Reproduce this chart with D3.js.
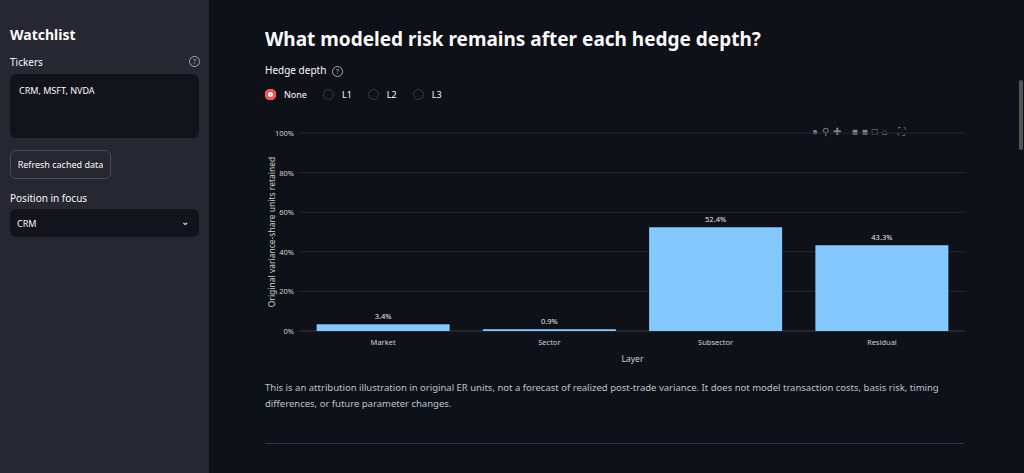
<!DOCTYPE html>
<html><head><meta charset="utf-8">
<script src="https://cdn.jsdelivr.net/npm/d3@7"></script>
<style>
body{margin:0;width:1024px;height:473px;overflow:hidden;background:#0e1117;font-family:"Source Sans Pro","Noto Sans",sans-serif;color:#fafafa;position:relative}
#side{position:absolute;left:0;top:0;width:209px;height:473px;background:#262730}
.abs{position:absolute}
svg text{font-family:"Noto Sans",sans-serif}
</style></head><body>
<div id="side">
 <div class="abs" style="left:10px;top:25px;font-size:14px;font-weight:700">Watchlist</div>
 <div class="abs" style="left:10px;top:55px;font-size:10px">Tickers</div>
 <div class="abs" style="left:189px;top:56px;width:9px;height:9px;border:1px solid #aaa;border-radius:50%;font-size:7px;text-align:center;line-height:9px;color:#aaa">?</div>
 <div class="abs" style="left:10px;top:74px;width:189px;height:64px;background:#13141b;border-radius:6px"></div>
 <div class="abs" style="left:19px;top:84px;font-size:9px">CRM, MSFT, NVDA</div>
 <div class="abs" style="left:10px;top:150px;width:99px;height:27px;border:1px solid #484a55;border-radius:6px;font-size:9px;line-height:27px;text-align:center">Refresh cached data</div>
 <div class="abs" style="left:10px;top:191px;font-size:10px">Position in focus</div>
 <div class="abs" style="left:10px;top:209px;width:189px;height:28px;background:#13141b;border-radius:6px"></div>
 <div class="abs" style="left:17px;top:217px;font-size:9px">CRM</div>
 <div class="abs" style="left:181px;top:214px;font-size:10px">&#8964;</div>
</div>
<div class="abs" style="left:265px;top:26px;font-size:19px;font-weight:700">What modeled risk remains after each hedge depth?</div>
<div class="abs" style="left:265px;top:63px;font-size:10px">Hedge depth <span style="display:inline-block;width:9px;height:9px;border:1px solid #aaa;border-radius:50%;font-size:7px;text-align:center;line-height:9px;color:#aaa;margin-left:3px">?</span></div>
<div class="abs" style="left:265px;top:88px;font-size:9px;display:flex;gap:8px;align-items:center">
 <span style="width:11px;height:11px;border-radius:50%;background:#ff4b4b;display:inline-block;box-shadow:inset 0 0 0 3px #ff4b4b, inset 0 0 0 5px #fff"></span>None
 <span style="width:9px;height:9px;border-radius:50%;border:1px solid #3a3c44;display:inline-block;margin-left:8px"></span>L1
 <span style="width:9px;height:9px;border-radius:50%;border:1px solid #3a3c44;display:inline-block;margin-left:8px"></span>L2
 <span style="width:9px;height:9px;border-radius:50%;border:1px solid #3a3c44;display:inline-block;margin-left:8px"></span>L3
</div>
<div class="abs" style="left:812px;top:124px;font-size:10px;color:#888;letter-spacing:4px">&#9679;&#9906;&#10010; &#9632;&#9632;&#9633;&#8962; &#9974;</div>
<svg id="chart" class="abs" style="left:260px;top:110px" width="720" height="270"></svg>
<div class="abs" style="left:265px;top:380px;width:705px;font-size:9.5px;line-height:16px;color:#bfc3c9">This is an attribution illustration in original ER units, not a forecast of realized post-trade variance. It does not model transaction costs, basis risk, timing differences, or future parameter changes.</div>
<div class="abs" style="left:265px;top:443px;width:699px;height:1px;background:#31333f"></div>
<div class="abs" style="left:1019px;top:80px;width:4px;height:70px;background:#555;border-radius:2px"></div>
<script>
const layers = ['Market','Sector','Subsector','Residual'];
const retained = [3.4, 0.9, 52.4, 43.3];
const yTicks = [0,20,40,60,80,100];

const svg = d3.select('#chart');
const m = {l:40, r:15, t:23, b:49};
const W = 720, H = 270;
const x = d3.scaleBand().domain(layers).range([m.l, W-m.r]).paddingInner(0.2).paddingOuter(0.1);
const y = d3.scaleLinear().domain([0,100]).range([H-m.b, m.t]);

svg.selectAll('line.g').data(yTicks).join('line')
	.attr('x1', m.l).attr('x2', W-m.r)
	.attr('y1', d=>y(d)).attr('y2', d=>y(d))
	.attr('stroke', d=>d===0?'#3a3d45':'#262a33').attr('stroke-width',1);
svg.selectAll('text.yt').data(yTicks).join('text')
	.attr('x', m.l-6).attr('y', d=>y(d)+3)
	.attr('text-anchor','end').attr('font-size',7.5).attr('fill','#d0d0d0')
	.text(d=>d+'%');
svg.selectAll('rect.bar').data(layers).join('rect')
	.attr('x', d=>x(d)).attr('width', x.bandwidth())
	.attr('y', (d,i)=>y(retained[i])).attr('height', (d,i)=>y(0)-y(retained[i]))
	.attr('fill','#83c9ff');
svg.selectAll('text.lbl').data(layers).join('text')
	.attr('x', d=>x(d)+x.bandwidth()/2).attr('y', (d,i)=>y(retained[i])-5)
	.attr('text-anchor','middle').attr('font-size',7.5).attr('fill','#e8e8e8')
	.text((d,i)=>retained[i].toFixed(1)+'%');
svg.selectAll('text.xt').data(layers).join('text')
	.attr('x', d=>x(d)+x.bandwidth()/2).attr('y', y(0)+14)
	.attr('text-anchor','middle').attr('font-size',7.5).attr('fill','#d0d0d0')
	.text(d=>d);
svg.append('text').attr('x', (m.l+W-m.r)/2).attr('y', H-m.b+31)
	.attr('text-anchor','middle').attr('font-size',8.5).attr('fill','#d0d0d0').text('Layer');
svg.append('text').attr('transform',`translate(15,${(m.t+H-m.b)/2}) rotate(-90)`)
	.attr('text-anchor','middle').attr('font-size',8.5).attr('fill','#d0d0d0')
	.text('Original variance-share units retained');
</script>
</body></html>
